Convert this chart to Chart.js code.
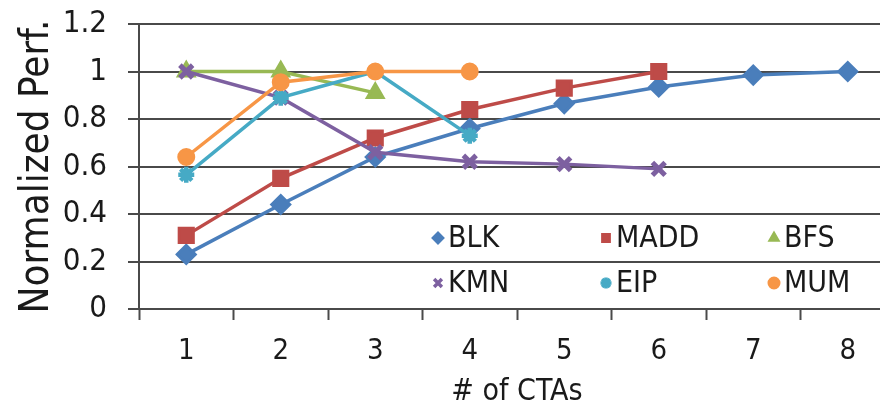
<!DOCTYPE html>
<html>
<head>
<meta charset="utf-8">
<script src="https://cdn.jsdelivr.net/npm/chart.js@4/dist/chart.umd.min.js"></script>
<style>
  html, body { margin: 0; padding: 0; background: #fff; overflow: hidden; }
  #wrap { width: 880px; height: 412px; overflow: hidden; }
</style>
</head>
<body>
<div id="wrap"><canvas id="perfChart" width="909" height="412"></canvas></div>
<script>
// ---------------- DATA ----------------
const ctaCounts = ["1", "2", "3", "4", "5", "6", "7", "8"];
const yTickValues = [0, 0.2, 0.4, 0.6, 0.8, 1, 1.2];

const seriesNames = ["BLK", "MADD", "BFS", "KMN", "EIP", "MUM"];

const blkPerf  = [0.23, 0.44, 0.64, 0.76, 0.865, 0.935, 0.985, 1.0];
const maddPerf = [0.31, 0.55, 0.72, 0.84, 0.93, 1.0, null, null];
const bfsPerf  = [1.0, 1.0, 0.91, null, null, null, null, null];
const kmnPerf  = [1.0, 0.89, 0.66, 0.62, 0.61, 0.59, null, null];
const eipPerf  = [0.565, 0.89, 1.0, 0.73, null, null, null, null];
const mumPerf  = [0.64, 0.955, 1.0, 1.0, null, null, null, null];

// ---------------- STYLE ----------------
const FONT = "'DejaVu Sans Condensed', 'DejaVu Sans', sans-serif";
const TEXT_COLOR = "#1a1a1a";
const GRID_COLOR = "#4a4a4a";

const seriesStyles = [
    { color: "#4a7ebb", marker: "rectRot",  radius: 9,   stroke: 3 },
    { color: "#be4b48", marker: "rect",     radius: 10,  stroke: 3 },
    { color: "#98b954", marker: "triangle", radius: 9,   stroke: 3 },
    { color: "#7d60a0", marker: "crossRot", radius: 9,   stroke: 5 },
    { color: "#46aac5", marker: "star",     radius: 8,   stroke: 4.5 },
    { color: "#f79646", marker: "circle",   radius: 7.5, stroke: 3 }
];

const seriesData = [blkPerf, maddPerf, bfsPerf, kmnPerf, eipPerf, mumPerf];

const datasets = seriesNames.map((name, i) => ({
    label: name,
    data: seriesData[i],
    borderColor: seriesStyles[i].color,
    backgroundColor: seriesStyles[i].color,
    borderWidth: 3.5,
    pointStyle: seriesStyles[i].marker,
    pointRadius: seriesStyles[i].radius,
    pointBorderWidth: seriesStyles[i].stroke,
    pointHoverRadius: seriesStyles[i].radius,
    tension: 0,
    order: seriesNames.length - i   // later series drawn on top, like the original
}));

// ---------------- LEGEND (inside plot) ----------------
const legendInside = {
    id: "legendInside",
    afterDraw(chart) {
        const ctx = chart.ctx;
        const colX = [438, 606, 774];
        const rowY = [238, 283];
        ctx.save();
        ctx.font = "30px " + FONT;
        ctx.textBaseline = "middle";
        ctx.textAlign = "left";
        chart.data.datasets.forEach((ds, i) => {
            const x = colX[i % 3];
            const y = rowY[Math.floor(i / 3)];
            ctx.fillStyle = ds.backgroundColor;
            ctx.strokeStyle = ds.borderColor;
            ctx.lineWidth = ds.pointStyle.startsWith("cross") || ds.pointStyle === "star" ? 3.5 : 2;
            Chart.helpers.drawPoint(ctx, {
                pointStyle: ds.pointStyle,
                radius: 5.5,
                borderWidth: ctx.lineWidth
            }, x, y);
            ctx.fillStyle = TEXT_COLOR;
            ctx.fillText(ds.label, x + 10, y + 1);
        });
        ctx.restore();
    }
};

// ---------------- CHART ----------------
new Chart(document.getElementById("perfChart"), {
    type: "line",
    data: { labels: ctaCounts, datasets: datasets },
    plugins: [legendInside],
    options: {
        responsive: false,
        animation: false,
        layout: { padding: { top: 24, right: 7, left: 0, bottom: 0 } },
        plugins: {
            legend: { display: false },
            tooltip: { enabled: false }
        },
        scales: {
            x: {
                offset: true,
                grid: {
                    offset: true,
                    drawOnChartArea: false,
                    drawTicks: true,
                    tickLength: 11,
                    tickWidth: 2,
                    tickColor: GRID_COLOR
                },
                border: { color: GRID_COLOR, width: 2 },
                ticks: {
                    color: TEXT_COLOR,
                    padding: 14,
                    maxRotation: 0,
                    font: { family: FONT, size: 29 }
                },
                title: {
                    display: true,
                    text: "# of CTAs",
                    color: TEXT_COLOR,
                    padding: { top: 0, bottom: 2 },
                    font: { family: FONT, size: 30 }
                },
                afterFit(scale) {
                    scale.height = 103;
                    scale.paddingLeft = 0;
                    scale.paddingRight = 0;
                }
            },
            y: {
                min: 0,
                max: 1.2,
                afterBuildTicks(scale) {
                    scale.ticks = yTickValues.map(v => ({ value: v }));
                },
                grid: {
                    color: GRID_COLOR,
                    lineWidth: 2,
                    drawTicks: true,
                    tickLength: 11
                },
                border: { color: GRID_COLOR, width: 2 },
                ticks: {
                    color: TEXT_COLOR,
                    padding: 21,
                    font: { family: FONT, size: 31 },
                    callback: v => String(Math.round(v * 10) / 10)
                },
                title: {
                    display: true,
                    text: "Normalized Perf.",
                    color: TEXT_COLOR,
                    padding: { top: 14, bottom: 0 },
                    font: { family: FONT, size: 40 }
                },
                afterFit(scale) {
                    scale.width = 139;
                    scale.paddingTop = 0;
                    scale.paddingBottom = 0;
                }
            }
        }
    }
});
</script>
</body>
</html>
